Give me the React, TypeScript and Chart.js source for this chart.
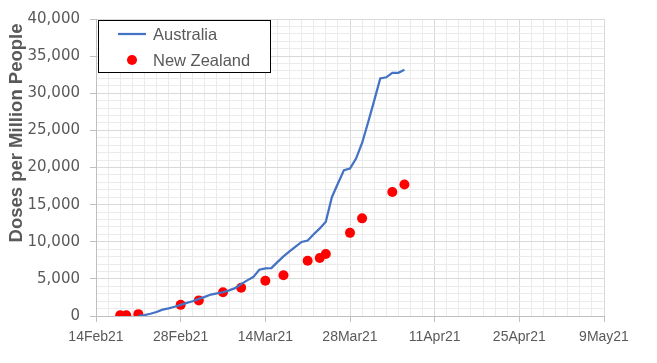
import React, { useEffect, useRef } from "react";
import { Chart, registerables } from "chart.js";

Chart.register(...registerables);

// ---- Data ----
const AXIS_START = "2021-02-14";
const AXIS_END = "2021-05-09";
const X_TICK_LABELS = ["14Feb21", "28Feb21", "14Mar21", "28Mar21", "11Apr21", "25Apr21", "9May21"];
const Y_TITLE = "Doses per Million People";

const AU_LABEL = "Australia";
const AU_START = "2021-02-21"; // one value per consecutive day from this date
const AU_VALUES = [
  0, 120, 300, 540, 860, 1030, 1240, 1500, 1770, 1980, 2300, 2580, 2890, 3060, 3200,
  3450, 3750, 4300, 4800, 5240, 6240, 6400, 6450, 7250, 8020, 8700, 9340, 9970, 10170,
  11000, 11800, 12700, 16000, 17850, 19650, 19850, 21200, 23300, 26100, 29000, 32000,
  32150, 32750, 32750, 33150,
];

const NZ_LABEL = "New Zealand";
const NZ_DATES = [
  "2021-02-18", "2021-02-19", "2021-02-21", "2021-02-28", "2021-03-03", "2021-03-07",
  "2021-03-10", "2021-03-14", "2021-03-17", "2021-03-21", "2021-03-23", "2021-03-24",
  "2021-03-28", "2021-03-30", "2021-04-04", "2021-04-06",
];
const NZ_VALUES = [100, 100, 250, 1500, 2100, 3200, 3800, 4750, 5500, 7450, 7800, 8350, 11200, 13150, 16700, 17700];

const Y_MAX = 40000;
const Y_MAJOR = 5000;
const Y_MINOR = 1000;
const X_MAJOR_DAYS = 14;
const X_MINOR_DAYS = 2;

const DAY = 86400000;
const dayOf = (s: string) => Math.round((Date.parse(s) - Date.parse(AXIS_START)) / DAY);
const X_MAX = dayOf(AXIS_END);

const fmt = (v: number) => String(Math.round(v)).replace(/\B(?=(\d{3})+(?!\d))/g, ",");

const GREY_TEXT = "#595959";
const MAJOR_GRID = "#d9d9d9";
const MINOR_GRID = "#ebebeb";
const AXIS_COLOR = "#bfbfbf";

const overlayPlugin = {
  id: "overlay",
  afterDraw(chart: any) {
    const ctx = chart.ctx as CanvasRenderingContext2D;
    // Y axis title
    ctx.save();
    ctx.translate(17, 133);
    ctx.rotate(-Math.PI / 2);
    ctx.font = 'bold 18.5px "Liberation Sans", Arial, sans-serif';
    ctx.fillStyle = GREY_TEXT;
    ctx.textAlign = "center";
    ctx.textBaseline = "middle";
    ctx.fillText(Y_TITLE, 0, 0);
    ctx.restore();

    // Legend box
    ctx.save();
    const bx = 98.5, by = 20.5, bw = 172, bh = 52;
    ctx.fillStyle = "#ffffff";
    ctx.fillRect(bx, by, bw, bh);
    ctx.strokeStyle = "#000000";
    ctx.lineWidth = 1;
    ctx.strokeRect(bx, by, bw, bh);
    const dsets = chart.data.datasets;
    ctx.font = '16.5px "Liberation Sans", Arial, sans-serif';
    ctx.textAlign = "left";
    ctx.textBaseline = "middle";
    dsets.forEach((ds: any, i: number) => {
      const y = 34 + i * 26;
      if (ds.showLine === false) {
        ctx.fillStyle = ds.pointBackgroundColor;
        ctx.beginPath();
        ctx.arc(132, y, 5, 0, Math.PI * 2);
        ctx.fill();
      } else {
        ctx.strokeStyle = ds.borderColor;
        ctx.lineWidth = 2.25;
        ctx.beginPath();
        ctx.moveTo(118, y);
        ctx.lineTo(146, y);
        ctx.stroke();
      }
      ctx.fillStyle = GREY_TEXT;
      ctx.fillText(ds.label, 153, y + 1);
    });
    ctx.restore();
  },
};

export default function App() {
  const ref = useRef<HTMLCanvasElement | null>(null);

  useEffect(() => {
    document.body.style.margin = "0";
    if (!ref.current) return;
    const auStart = dayOf(AU_START);
    const chart = new Chart(ref.current, {
      type: "line",
      data: {
        datasets: [
          {
            label: AU_LABEL,
            data: AU_VALUES.map((v, i) => ({ x: auStart + i, y: v })),
            borderColor: "#4472C4",
            backgroundColor: "#4472C4",
            borderWidth: 2.25,
            pointRadius: 0,
            tension: 0,
            fill: false,
          },
          {
            label: NZ_LABEL,
            data: NZ_DATES.map((d, i) => ({ x: dayOf(d), y: NZ_VALUES[i] })),
            showLine: false,
            borderColor: "#FF0000",
            backgroundColor: "#FF0000",
            pointBackgroundColor: "#FF0000",
            pointBorderWidth: 0,
            pointRadius: 5,
          },
        ],
      } as any,
      options: {
        responsive: false,
        animation: false,
        layout: { padding: { left: 0, top: 18, right: 53, bottom: 0 } },
        plugins: { legend: { display: false }, tooltip: { enabled: false } },
        scales: {
          x: {
            type: "linear",
            min: 0,
            max: X_MAX,
            afterBuildTicks: (scale: any) => {
              const t: any[] = [];
              for (let v = 0; v <= X_MAX; v += X_MINOR_DAYS) t.push({ value: v });
              scale.ticks = t;
            },
            afterFit: (scale: any) => {
              scale.height = 47;
            },
            ticks: {
              autoSkip: false,
              maxRotation: 0,
              minRotation: 0,
              padding: 7,
              color: GREY_TEXT,
              font: { family: '"Liberation Sans", Arial, sans-serif', size: 14 },
              callback: (v: any) => (v % X_MAJOR_DAYS === 0 ? X_TICK_LABELS[v / X_MAJOR_DAYS] : ""),
            },
            grid: {
              color: (c: any) => (c.tick && c.tick.value % X_MAJOR_DAYS === 0 ? MAJOR_GRID : MINOR_GRID),
              tickColor: (c: any) => (c.tick && c.tick.value % X_MAJOR_DAYS === 0 ? AXIS_COLOR : "rgba(0,0,0,0)"),
              tickLength: 6,
              lineWidth: 1,
            },
            border: { display: true, color: AXIS_COLOR, width: 1 },
          },
          y: {
            type: "linear",
            min: 0,
            max: Y_MAX,
            afterBuildTicks: (scale: any) => {
              const t: any[] = [];
              for (let v = 0; v <= Y_MAX; v += Y_MINOR) t.push({ value: v });
              scale.ticks = t;
            },
            afterFit: (scale: any) => {
              scale.width = 96;
            },
            ticks: {
              autoSkip: false,
              padding: 10,
              color: GREY_TEXT,
              font: { family: '"DejaVu Sans", sans-serif', size: 15 },
              callback: (v: any) => (v % Y_MAJOR === 0 ? fmt(v) : ""),
            },
            grid: {
              color: (c: any) => (c.tick && c.tick.value % Y_MAJOR === 0 ? MAJOR_GRID : MINOR_GRID),
              tickColor: (c: any) => (c.tick && c.tick.value % Y_MAJOR === 0 ? AXIS_COLOR : "rgba(0,0,0,0)"),
              tickLength: 6,
              lineWidth: 1,
            },
            border: { display: true, color: AXIS_COLOR, width: 1 },
          },
        },
      } as any,
      plugins: [overlayPlugin],
    });
    return () => chart.destroy();
  }, []);

  return (
    <div style={{ width: 657, height: 363 }}>
      <canvas ref={ref} width={657} height={363} style={{ display: "block" }} />
    </div>
  );
}
